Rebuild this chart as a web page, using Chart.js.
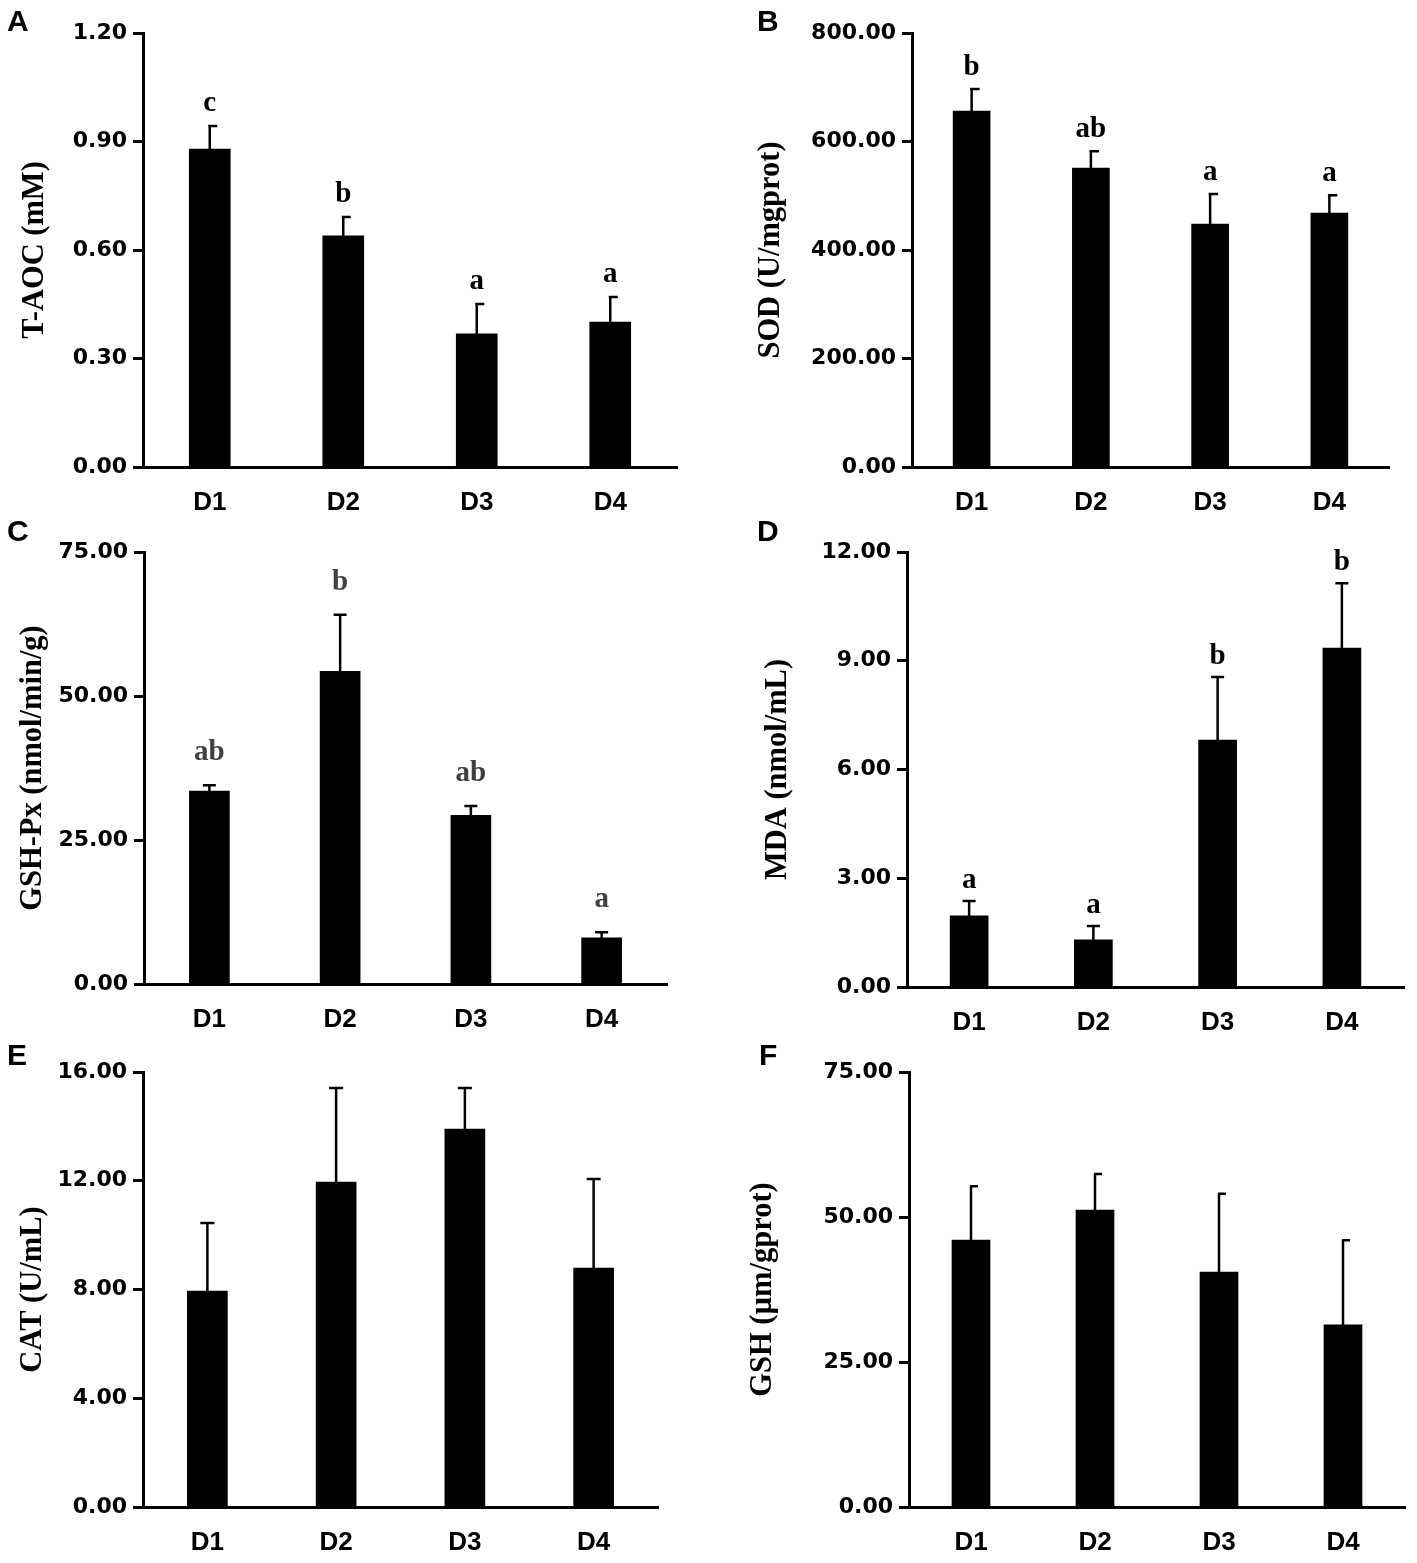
<!DOCTYPE html>
<html lang="en">
<head>
<meta charset="UTF-8">
<title>Antioxidant indices, D1-D4</title>
<script src="https://cdn.jsdelivr.net/npm/chart.js"></script>
<style>
  body { margin: 0; background: #fff; }
  #fig { position: relative; width: 1417px; height: 1563px; overflow: hidden; }
  #fig canvas { position: absolute; }
</style>
</head>
<body>
<div id="fig">
  <canvas id="chartA"></canvas>
  <canvas id="chartB"></canvas>
  <canvas id="chartC"></canvas>
  <canvas id="chartD"></canvas>
  <canvas id="chartE"></canvas>
  <canvas id="chartF"></canvas>
</div>

<script>
// groups on the x axis
const groups = ['D1', 'D2', 'D3', 'D4'];

// A - T-AOC (mM)
const taocMean = [0.879, 0.639, 0.368, 0.401];
const taocSd = [0.064, 0.052, 0.083, 0.069];
const taocLetters = ['c', 'b', 'a', 'a'];
const taocTicks = [0, 0.3, 0.6, 0.9, 1.2];

// B - SOD (U/mgprot)
const sodMean = [656, 551, 448, 468];
const sodSd = [41, 31, 55, 33];
const sodLetters = ['b', 'ab', 'a', 'a'];
const sodTicks = [0, 200, 400, 600, 800];

// C - GSH-Px (nmol/min/g)
const gpxMean = [33.5, 54.3, 29.3, 8.0];
const gpxSd = [1.0, 9.8, 1.6, 1.0];
const gpxLetters = ['ab', 'b', 'ab', 'a'];
const gpxTicks = [0, 25, 50, 75];

// D - MDA (nmol/mL)
const mdaMean = [1.96, 1.30, 6.81, 9.35];
const mdaSd = [0.41, 0.38, 1.74, 1.79];
const mdaLetters = ['a', 'a', 'b', 'b'];
const mdaTicks = [0, 3, 6, 9, 12];

// E - CAT (U/mL)
const catMean = [7.94, 11.95, 13.9, 8.79];
const catSd = [2.51, 3.46, 1.51, 3.27];
const catTicks = [0, 4, 8, 12, 16];

// F - GSH (µm/gprot)
const gshMean = [46.0, 51.2, 40.5, 31.4];
const gshSd = [9.3, 6.2, 13.5, 14.6];
const gshTicks = [0, 25, 50, 75];

// layout of each panel on the page (px)
const panels = [
  { id: 'chartA', tag: 'A', title: 'T-AOC (mM)', mean: taocMean, sd: taocSd, letters: taocLetters, ticks: taocTicks,
    box: { left: 0, top: 0, w: 708, h: 514 }, axis: { x: 143, top: 33, bottom: 467, right: 677 },
    titleX: 35, tagPos: [7, 31], bar: 41, cap: [1.5, 7.5], gap: 15, letterColor: '#000' },
  { id: 'chartB', tag: 'B', title: 'SOD (U/mgprot)', mean: sodMean, sd: sodSd, letters: sodLetters, ticks: sodTicks,
    box: { left: 708, top: 0, w: 709, h: 514 }, axis: { x: 912, top: 33, bottom: 467, right: 1389 },
    titleX: 771, tagPos: [757, 31], bar: 37, cap: [1.5, 8], gap: 14, letterColor: '#000' },
  { id: 'chartC', tag: 'C', title: 'GSH-Px (nmol/min/g)', mean: gpxMean, sd: gpxSd, letters: gpxLetters, ticks: gpxTicks,
    box: { left: 0, top: 514, w: 708, h: 520 }, axis: { x: 144, top: 552, bottom: 984, right: 667 },
    titleX: 33, tagPos: [7, 541], bar: 40, cap: [6.5, 6.5], gap: 25, letterColor: '#404040' },
  { id: 'chartD', tag: 'D', title: 'MDA (nmol/mL)', mean: mdaMean, sd: mdaSd, letters: mdaLetters, ticks: mdaTicks,
    box: { left: 708, top: 514, w: 709, h: 520 }, axis: { x: 907, top: 552, bottom: 987, right: 1404 },
    titleX: 778, tagPos: [757, 541], bar: 38, cap: [6.5, 6.5], gap: 13, letterColor: '#000' },
  { id: 'chartE', tag: 'E', title: 'CAT (U/mL)', mean: catMean, sd: catSd, letters: null, ticks: catTicks,
    box: { left: 0, top: 1034, w: 708, h: 529 }, axis: { x: 143, top: 1072, bottom: 1507, right: 658 },
    titleX: 33, tagPos: [7, 1065], bar: 40, cap: [7, 7], gap: 0, letterColor: '#000' },
  { id: 'chartF', tag: 'F', title: 'GSH (\u00b5m/gprot)', mean: gshMean, sd: gshSd, letters: null, ticks: gshTicks,
    box: { left: 708, top: 1034, w: 709, h: 529 }, axis: { x: 909, top: 1072, bottom: 1507, right: 1405 },
    titleX: 763, tagPos: [759, 1065], bar: 38, cap: [1, 7], gap: 0, letterColor: '#000' }
];

const TITLE_SIZE = 30.5;

function makePanel(p) {
  const cv = document.getElementById(p.id);
  cv.width = p.box.w;
  cv.height = p.box.h;
  cv.style.left = p.box.left + 'px';
  cv.style.top = p.box.top + 'px';

  const yWidth = p.axis.x - p.box.left;
  const xHeight = p.box.top + p.box.h - p.axis.bottom;

  // SD error bars, significance letters and the panel tag
  const extras = {
    id: 'extras' + p.tag,
    afterDatasetsDraw(chart) {
      const ctx = chart.ctx;
      const y = chart.scales.y;
      const bars = chart.getDatasetMeta(0).data;
      ctx.save();
      ctx.strokeStyle = '#000';
      ctx.lineWidth = 2.5;
      bars.forEach((bar, i) => {
        const yMean = y.getPixelForValue(p.mean[i]);
        const yTop = y.getPixelForValue(p.mean[i] + p.sd[i]);
        ctx.beginPath();
        ctx.moveTo(bar.x, yMean);
        ctx.lineTo(bar.x, yTop);
        ctx.moveTo(bar.x - p.cap[0], yTop);
        ctx.lineTo(bar.x + p.cap[1], yTop);
        ctx.stroke();
        if (p.letters) {
          ctx.fillStyle = p.letterColor;
          ctx.font = 'bold 29px "Liberation Serif", "Times New Roman", serif';
          ctx.textAlign = 'center';
          ctx.textBaseline = 'alphabetic';
          ctx.fillText(p.letters[i], bar.x, yTop - p.gap);
        }
      });
      ctx.fillStyle = '#000';
      ctx.font = 'bold 30px "Liberation Sans", Arial, sans-serif';
      ctx.textAlign = 'left';
      ctx.textBaseline = 'alphabetic';
      ctx.fillText(p.tag, p.tagPos[0] - p.box.left, p.tagPos[1] - p.box.top);
      ctx.restore();
    }
  };

  new Chart(cv, {
    type: 'bar',
    data: {
      labels: groups,
      datasets: [{
        data: p.mean,
        backgroundColor: '#000',
        borderWidth: 0,
        barThickness: p.bar
      }]
    },
    options: {
      responsive: false,
      animation: false,
      layout: {
        padding: {
          top: p.axis.top - p.box.top,
          right: p.box.left + p.box.w - p.axis.right,
          left: 0,
          bottom: 0
        }
      },
      plugins: {
        legend: { display: false },
        tooltip: { enabled: false }
      },
      scales: {
        x: {
          grid: { display: false, drawTicks: false },
          border: { color: '#000', width: 3 },
          ticks: {
            color: '#000',
            padding: 20,
            font: { family: '"Liberation Sans", Arial, sans-serif', weight: 'bold', size: 26 }
          },
          afterFit(s) { s.height = xHeight; }
        },
        y: {
          min: p.ticks[0],
          max: p.ticks[p.ticks.length - 1],
          afterBuildTicks(s) { s.ticks = p.ticks.map(v => ({ value: v })); },
          grid: { drawOnChartArea: false, tickLength: 10, tickWidth: 3, tickColor: '#000' },
          border: { color: '#000', width: 3 },
          ticks: {
            color: '#000',
            padding: 6,
            font: { family: '"DejaVu Sans", sans-serif', weight: 'bold', size: 22 },
            callback: v => Number(v).toFixed(2)
          },
          title: {
            display: true,
            text: p.title,
            color: '#000',
            font: { family: '"Liberation Serif", "Times New Roman", serif', weight: 'bold', size: TITLE_SIZE },
            padding: { top: p.titleX - p.box.left - TITLE_SIZE * 0.6, bottom: 0 }
          },
          afterFit(s) { s.width = yWidth; }
        }
      }
    },
    plugins: [extras]
  });
}

panels.forEach(makePanel);
</script>
</body>
</html>
